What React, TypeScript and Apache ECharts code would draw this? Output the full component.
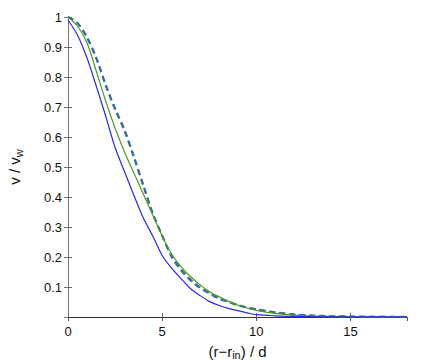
import React, { useEffect, useRef } from "react";
import * as echarts from "echarts";

const xs = [0, 0.5, 1, 1.5, 2, 2.5, 3, 3.5, 4, 4.5, 5, 5.5, 6, 6.5, 7, 7.5, 8, 8.5, 9, 9.5, 10, 11, 12, 13, 14, 15, 16, 17, 18];
const blueSolid = [0.99, 0.94, 0.865, 0.77, 0.67, 0.565, 0.485, 0.405, 0.33, 0.27, 0.205, 0.163, 0.128, 0.095, 0.072, 0.052, 0.039, 0.029, 0.021, 0.014, 0.008, 0.004, 0.002, 0.001, 0.0005, 0.0003, 0.0002, 0.0001, 0.0001];
const greenSolid = [1.0, 0.97, 0.915, 0.82, 0.72, 0.63, 0.55, 0.48, 0.41, 0.34, 0.27, 0.21, 0.168, 0.135, 0.108, 0.085, 0.068, 0.053, 0.04, 0.03, 0.022, 0.012, 0.006, 0.003, 0.002, 0.001, 0.0006, 0.0004, 0.0003];
const blueDashed = [1.0, 0.98, 0.935, 0.865, 0.775, 0.695, 0.625, 0.535, 0.44, 0.345, 0.27, 0.2, 0.155, 0.122, 0.097, 0.078, 0.061, 0.05, 0.039, 0.031, 0.025, 0.015, 0.008, 0.004, 0.002, 0.001, 0.0006, 0.0004, 0.0003];
const greenDashed = [1.0, 0.98, 0.932, 0.862, 0.772, 0.692, 0.62, 0.532, 0.437, 0.345, 0.272, 0.205, 0.16, 0.126, 0.1, 0.081, 0.063, 0.052, 0.041, 0.032, 0.026, 0.016, 0.009, 0.005, 0.003, 0.002, 0.001, 0.0006, 0.0004];

const xTicks = { min: 0, max: 18, interval: 5 };
const yTicks = { min: 0, max: 1, interval: 0.1 };

const pair = (ys: number[]) => xs.map((x, i) => [x, ys[i]]);

export default function App() {
  const ref = useRef<HTMLDivElement>(null);
  useEffect(() => {
    if (!ref.current) return;
    const chart = echarts.init(ref.current, undefined, { renderer: "svg" });
    const font = "'Liberation Sans', Arial, sans-serif";
    const axisColor = "#666";
    chart.setOption({
      animation: false,
      backgroundColor: "#fff",
      grid: { left: 68, top: 17, right: 36, bottom: 43, containLabel: false, outerBoundsMode: "none" },
      xAxis: [
        {
          type: "value",
          min: xTicks.min,
          max: xTicks.max,
          interval: xTicks.interval,
          axisLine: { lineStyle: { color: axisColor, width: 1 } },
          axisTick: { inside: true, length: 4, lineStyle: { color: axisColor } },
          axisLabel: { showMaxLabel: false, color: "#111", fontSize: 13, fontFamily: font, margin: 8 },
          splitLine: { show: false },
          name: "{m|(r\u2212r}{s|in}{m|) / d}",
          nameLocation: "middle",
          nameGap: 20,
          nameTextStyle: {
            rich: {
              m: { fontSize: 15, fontFamily: font, color: "#111", lineHeight: 17, verticalAlign: "top" },
              s: { fontSize: 11, fontFamily: font, color: "#111", lineHeight: 12, verticalAlign: "bottom", padding: [7, 0, 0, 0] },
            },
          },
        },
        {
          type: "value",
          position: "top",
          min: xTicks.min,
          max: xTicks.max,
          interval: xTicks.interval,
          axisLine: { show: true, lineStyle: { color: "#333", width: 1 } },
          axisTick: { show: true, inside: true, length: 4, lineStyle: { color: "#555" } },
          axisLabel: { show: false },
          splitLine: { show: false },
        },
      ],
      yAxis: [
        {
          type: "value",
          min: yTicks.min,
          max: yTicks.max,
          interval: yTicks.interval,
          axisLine: { show: true, lineStyle: { color: axisColor, width: 1 } },
          axisTick: { show: true, inside: true, length: 4, lineStyle: { color: axisColor } },
          axisLabel: { showMinLabel: false, color: "#111", fontSize: 13, fontFamily: font, margin: 6 },
          splitLine: { show: false },
          name: "{m|v / v}{s|w}",
          nameLocation: "middle",
          nameRotate: 90,
          nameGap: 44,
          nameTextStyle: {
            rich: {
              m: { fontSize: 15, fontFamily: font, color: "#111", lineHeight: 17, verticalAlign: "top" },
              s: { fontSize: 11, fontFamily: font, color: "#111", lineHeight: 12, verticalAlign: "bottom", padding: [7, 0, 0, 0] },
            },
          },
        },
        {
          type: "value",
          position: "right",
          min: yTicks.min,
          max: yTicks.max,
          interval: yTicks.interval,
          axisLine: { show: true, lineStyle: { color: "#777", width: 1 } },
          axisTick: { show: true, inside: true, length: 4, lineStyle: { color: "#777" } },
          axisLabel: { show: false },
          splitLine: { show: false },
        },
      ],
      series: [
        {
          type: "line",
          data: pair(greenDashed),
          showSymbol: false,
          symbol: "none",
          smooth: 0.3,
          lineStyle: { color: "#3f8a3a", width: 2, type: [6, 4] },
        },
        {
          type: "line",
          data: pair(blueDashed),
          showSymbol: false,
          symbol: "none",
          smooth: 0.3,
          lineStyle: { color: "#3a5fc0", width: 2, type: [6, 4], opacity: 0.85 },
        },
        {
          type: "line",
          data: pair(greenSolid),
          showSymbol: false,
          symbol: "none",
          smooth: 0.3,
          lineStyle: { color: "#4a9a2a", width: 1.2 },
        },
        {
          type: "line",
          data: pair(blueSolid),
          showSymbol: false,
          symbol: "none",
          smooth: 0.3,
          lineStyle: { color: "#2a2ae6", width: 1.2 },
        },
      ],
    });
    return () => chart.dispose();
  }, []);
  return <div ref={ref} style={{ width: 443, height: 360, position: "absolute", left: 0, top: 0 }} />;
}
